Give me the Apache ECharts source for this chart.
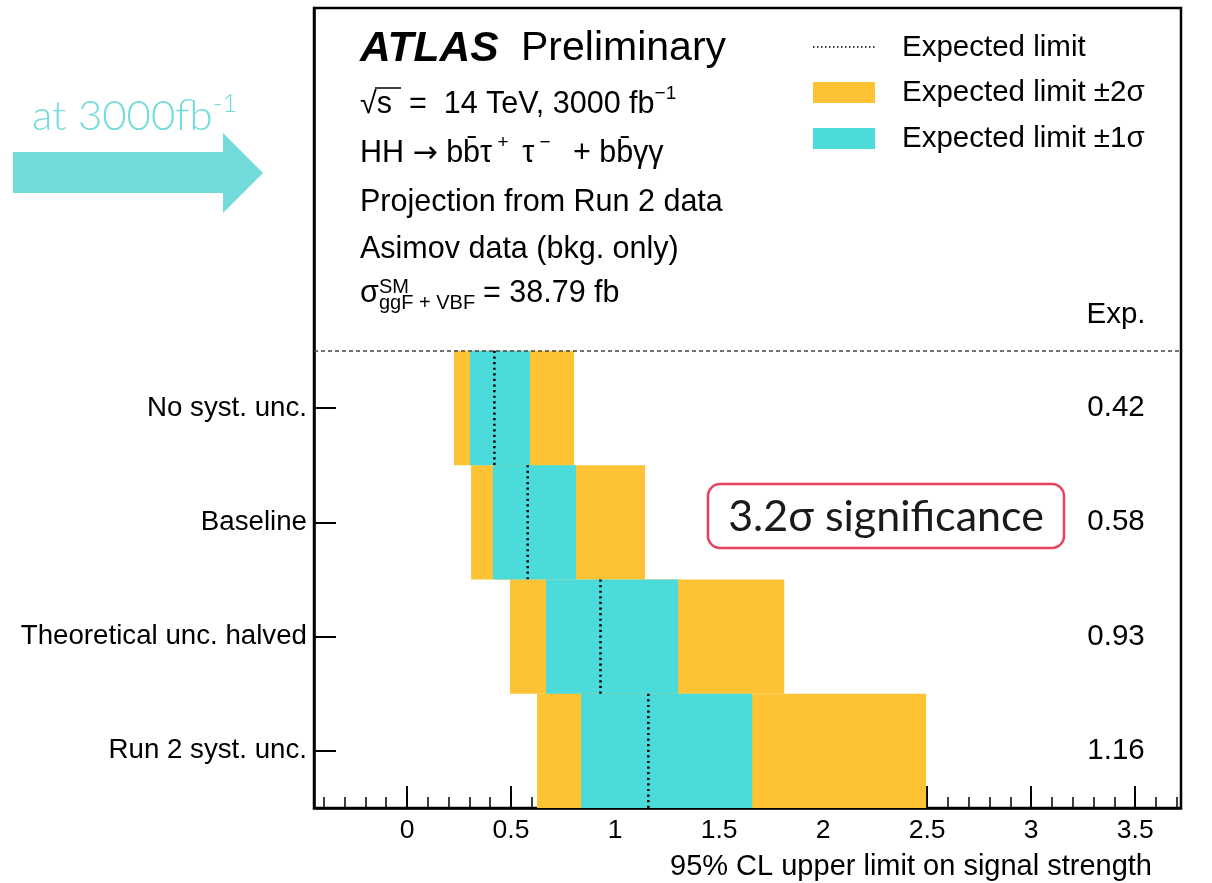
<!DOCTYPE html>
<html><head><meta charset="utf-8">
<script src="https://cdn.jsdelivr.net/npm/echarts@6/dist/echarts.min.js"></script>
<style>html,body{margin:0;padding:0;background:#fff}#c{width:1212px;height:883px}</style>
</head><body><div id="c"></div>
<script>
// ---- data ----
const categories = ['No syst. unc.', 'Baseline', 'Theoretical unc. halved', 'Run 2 syst. unc.'];
const expected = [0.42, 0.58, 0.93, 1.16];
const minus2 = [0.226, 0.308, 0.495, 0.625];
const minus1 = [0.303, 0.413, 0.668, 0.837];
const plus1 = [0.591, 0.812, 1.303, 1.659];
const plus2 = [0.803, 1.144, 1.813, 2.495];
const expLabels = ['0.42', '0.58', '0.93', '1.16'];
const xTickLabels = [0, 0.5, 1, 1.5, 2, 2.5, 3, 3.5];
const xMinorTicks = [];
for (let k = -4; k <= 37; k++) xMinorTicks.push(+(k / 10).toFixed(1));
const NCAT = categories.length;
const yCenters = categories.map((c, i) => NCAT - i - 0.5);

const ORANGE = '#FDC334', CYAN = '#4ADBDA', FONT = 'Liberation Sans, Arial, sans-serif';
const HS = 30.5; // header font size

const chart = echarts.init(document.getElementById('c'));

function bandRender(color) {
  return function (params, api) {
    const lo = api.value(0), hi = api.value(1), yc = api.value(2);
    const p1 = api.coord([lo, yc + 0.5]), p2 = api.coord([hi, yc - 0.5]);
    return { type: 'rect', shape: { x: p1[0], y: p1[1], width: p2[0] - p1[0], height: p2[1] - p1[1] }, style: { fill: color } };
  };
}

const series = [
  { type: 'custom', name: 'Expected limit ±2σ', renderItem: bandRender(ORANGE), encode: { x: [0, 1], y: 2 },
    data: categories.map((c, i) => [minus2[i], plus2[i], yCenters[i]]), z: 2 },
  { type: 'custom', name: 'Expected limit ±1σ', renderItem: bandRender(CYAN), encode: { x: [0, 1], y: 2 },
    data: categories.map((c, i) => [minus1[i], plus1[i], yCenters[i]]), z: 3 },
  { type: 'custom', name: 'Expected limit', encode: { x: 0, y: 1 }, z: 4,
    data: categories.map((c, i) => [expected[i], yCenters[i]]),
    renderItem: function (params, api) {
      const e = api.value(0), yc = api.value(1);
      const a = api.coord([e, yc + 0.5]), b = api.coord([e, yc - 0.5]);
      return { type: 'line', shape: { x1: a[0], y1: a[1], x2: b[0], y2: b[1] },
        style: { stroke: '#000', lineWidth: 2.5, lineDash: [2.2, 3.4] } };
    },
    markLine: { silent: true, symbol: ['none', 'none'], label: { show: false },
      lineStyle: { color: '#444', width: 1.5, type: [4, 3] }, data: [{ yAxis: 4 }] }
  },
  { type: 'custom', name: 'Exp values', encode: { x: 0, y: 1 }, z: 5,
    data: categories.map((c, i) => [0, yCenters[i], i]),
    renderItem: function (params, api) {
      const yc = api.value(1), i = api.value(2);
      const p = api.coord([0, yc]);
      return { type: 'text', x: params.coordSys.x + params.coordSys.width - 65, y: p[1],
        style: { text: expLabels[i], fontSize: 29.5, fontFamily: FONT, fill: '#000', align: 'center', verticalAlign: 'middle' } };
    }
  }
];

const txt = (x, y, text, size, extra) => Object.assign({ type: 'text', x: x, y: y, z: 10,
  style: Object.assign({ text: text, fontSize: size, fontFamily: FONT, fill: '#000', align: 'left', verticalAlign: 'middle' }, extra || {}) });

const supRich = {
  m: { fontSize: HS, fontFamily: FONT, lineHeight: 36, verticalAlign: 'bottom' },
  a: { fontSize: 30, fontFamily: 'DejaVu Sans', lineHeight: 36, verticalAlign: 'bottom' },
  s: { fontSize: 19, fontFamily: FONT, lineHeight: 19, verticalAlign: 'top' }
};

const graphic = [
  // arrow + label
  { type: 'polygon', z: 10, shape: { points: [[13, 152], [223, 152], [223, 133], [263, 173], [223, 213], [223, 193], [13, 193]] }, style: { fill: '#72DCDB' } },
  txt(32, 114, '{m|at 3000fb}{s|-1}', 42, { fill: '#72DCDB', fontFamily: 'Lato', fontWeight: 300,
    rich: { m: { fontSize: 42, fontFamily: 'Lato', fontWeight: 300, lineHeight: 46, verticalAlign: 'bottom' },
            s: { fontSize: 26, fontFamily: 'Lato', fontWeight: 300, lineHeight: 28, verticalAlign: 'top' } } }),
  // header
  txt(360, 49, 'ATLAS', 42.5, { fontWeight: 'bold', fontStyle: 'italic' }),
  txt(521, 49, 'Preliminary', 41),
  txt(360, 102, '{m|√s  =  14 TeV, 3000 fb}{s|−1}', HS, { rich: supRich }),
  { type: 'line', z: 10, shape: { x1: 375, y1: 88, x2: 401, y2: 88 }, style: { stroke: '#000', lineWidth: 1.5 } },
  txt(360, 151, '{m|HH }{a|→}{m| bb\u0304τ}{s| + }{m| τ}{s| − }{m|  + bb\u0304γγ}', HS, { rich: supRich }),
  txt(360, 203, 'Projection from Run 2 data', HS),
  txt(360, 250, 'Asimov data (bkg. only)', HS),
  txt(360, 294, 'σ', HS),
  txt(379, 287, 'SM', 20),
  txt(379, 303, 'ggF + VBF', 20),
  txt(483, 294, '= 38.79 fb', HS),
  // legend
  { type: 'line', z: 10, shape: { x1: 813, y1: 47, x2: 875, y2: 47 }, style: { stroke: '#000', lineWidth: 1.5, lineDash: [1.5, 2.5] } },
  { type: 'rect', z: 10, shape: { x: 813, y: 82, width: 62, height: 21 }, style: { fill: ORANGE } },
  { type: 'rect', z: 10, shape: { x: 813, y: 128, width: 62, height: 21 }, style: { fill: CYAN } },
  txt(902, 48, 'Expected limit', 29.5),
  txt(902, 93, 'Expected limit ±2σ', 29.5),
  txt(902, 139, 'Expected limit ±1σ', 29.5),
  txt(1116, 315, 'Exp.', 29.5, { align: 'center' }),
  // significance box
  { type: 'rect', z: 10, shape: { x: 708, y: 484, width: 356, height: 64, r: 12 }, style: { fill: '#fff', stroke: '#E8415F', lineWidth: 2.5 } },
  txt(886, 517, '3.2σ significance', 43, { fontFamily: 'Lato', fill: '#1a1a1a', align: 'center' })
];

chart.setOption({
  animation: false,
  backgroundColor: '#fff',
  grid: { left: 314, right: 31, top: 8, bottom: 75, show: true, borderColor: '#000', borderWidth: 2.5, backgroundColor: 'transparent', outerBoundsMode: 'none' },
  xAxis: [{
    type: 'value', min: -0.447, max: 3.72, position: 'bottom',
    axisLine: { show: true, onZero: false, lineStyle: { color: '#000', width: 2.5 } },
    axisTick: { show: true, inside: true, length: 22, lineStyle: { color: '#000', width: 2 }, customValues: xTickLabels },
    axisLabel: { customValues: xTickLabels, fontSize: 26.5, color: '#000', margin: 9, fontFamily: FONT, formatter: v => String(v) },
    splitLine: { show: false },
    name: '95% CL upper limit on signal strength', nameLocation: 'end', nameGap: -29, nameMoveOverlap: false,
    nameTextStyle: { fontSize: 29, fontFamily: FONT, color: '#000', align: 'right', verticalAlign: 'top', padding: [44, 0, 0, 0] }
  }, {
    type: 'value', min: -0.447, max: 3.72, position: 'bottom',
    axisLine: { show: false },
    axisTick: { show: true, inside: true, length: 11, lineStyle: { color: '#000', width: 1.5 }, customValues: xMinorTicks },
    axisLabel: { show: false }, splitLine: { show: false }
  }],
  yAxis: {
    type: 'value', min: 0, max: 7,
    axisLine: { show: true, onZero: false, lineStyle: { color: '#000', width: 2.5 } },
    axisTick: { show: true, inside: true, length: 22, lineStyle: { color: '#000', width: 2 }, customValues: yCenters },
    axisLabel: { customValues: yCenters, fontSize: 27.7, color: '#000', margin: 7, fontFamily: FONT,
      formatter: v => categories[NCAT - 1 - Math.floor(v)] },
    splitLine: { show: false }
  },
  series: series,
  graphic: graphic
});
</script></body></html>
